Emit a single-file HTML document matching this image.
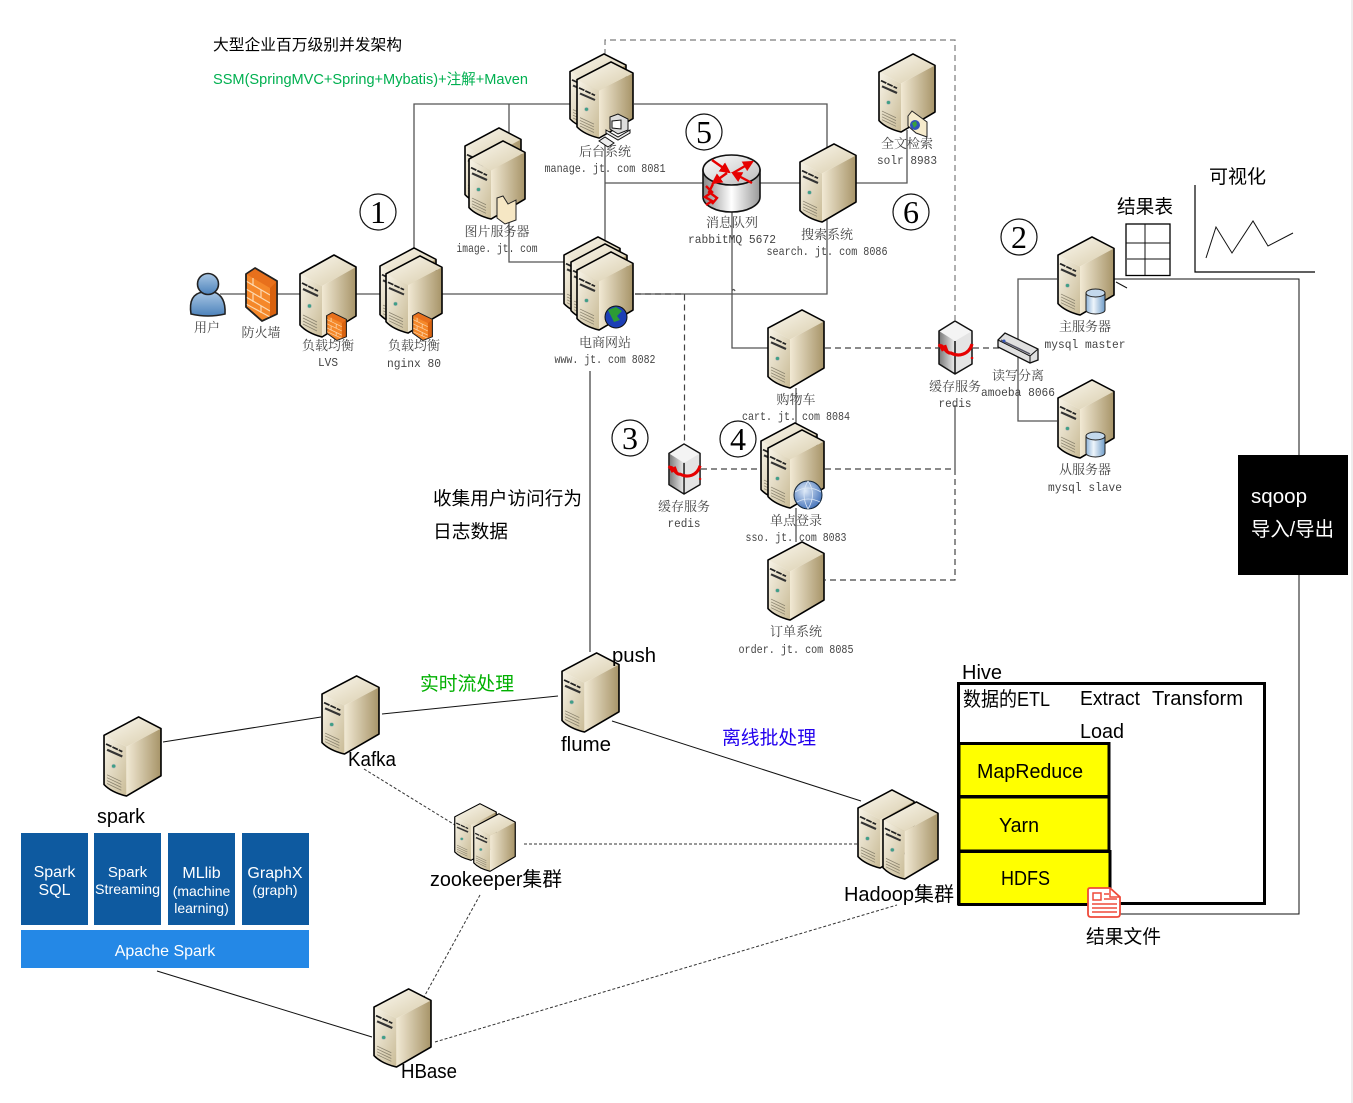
<!DOCTYPE html>
<html><head><meta charset="utf-8"><style>
html,body{margin:0;padding:0;background:#fff;width:1353px;height:1103px;overflow:hidden}
svg{display:block}
.c{font-family:"Liberation Serif","Noto Serif CJK SC",serif;font-size:13px;fill:#444;text-anchor:middle}
.m{font-family:"Liberation Mono","Noto Serif CJK SC",monospace;font-size:12px;fill:#444;text-anchor:middle}
.b{font-family:"Liberation Sans","Noto Sans CJK SC",sans-serif;font-size:20px;fill:#000}
.w{font-family:"Liberation Sans",sans-serif;fill:#fff;text-anchor:middle;font-size:16px}
.n{font-family:"Liberation Serif",serif;font-size:32px;fill:#000;text-anchor:middle}
.g{fill:none;stroke:#555;stroke-width:1.3}
.k{fill:none;stroke:#111;stroke-width:1}
.d{fill:none;stroke:#444;stroke-width:1.2;stroke-dasharray:6 4}
.d2{fill:none;stroke:#333;stroke-width:1;stroke-dasharray:3 2}
</style></head><body>
<svg width="1353" height="1103" viewBox="0 0 1353 1103" xmlns="http://www.w3.org/2000/svg">
<defs>
<marker id="ah" markerUnits="userSpaceOnUse" viewBox="0 0 10 10" refX="8" refY="5" markerWidth="11" markerHeight="11" orient="auto"><path d="M0 0 L10 5 L0 10Z" fill="#e60000"/></marker>
<linearGradient id="lf" x1="0" y1="0" x2="1" y2="1"><stop offset="0" stop-color="#f8f4e8"/><stop offset="1" stop-color="#c9bb96"/></linearGradient>
<linearGradient id="rf" x1="0" y1="0" x2="1" y2="0"><stop offset="0" stop-color="#f1e9d4"/><stop offset="1" stop-color="#a79468"/></linearGradient>
<linearGradient id="tf" x1="0" y1="0" x2="1" y2="1"><stop offset="0" stop-color="#fbf8ef"/><stop offset="1" stop-color="#d8ccab"/></linearGradient>
<linearGradient id="cy" x1="0" y1="0" x2="1" y2="0"><stop offset="0" stop-color="#8fb4d8"/><stop offset=".4" stop-color="#eef5fb"/><stop offset="1" stop-color="#6f9cc8"/></linearGradient>
<linearGradient id="rt" x1="0" y1="0" x2="1" y2="0"><stop offset="0" stop-color="#888"/><stop offset=".5" stop-color="#fff"/><stop offset="1" stop-color="#999"/></linearGradient>
<linearGradient id="rtt" x1="0" y1="0" x2="1" y2="1"><stop offset="0" stop-color="#fff"/><stop offset="1" stop-color="#bbb"/></linearGradient>
<radialGradient id="gb" cx=".4" cy=".35" r=".7"><stop offset="0" stop-color="#dfeaf8"/><stop offset="1" stop-color="#3f6fb8"/></radialGradient>
<linearGradient id="us" x1="0" y1="0" x2="0" y2="1"><stop offset="0" stop-color="#a8c6e4"/><stop offset="1" stop-color="#4c82bb"/></linearGradient>
<linearGradient id="rl" x1="0" y1="0" x2="1" y2="0"><stop offset="0" stop-color="#777"/><stop offset="1" stop-color="#eee"/></linearGradient>
<symbol id="srv" viewBox="0 0 58 84" overflow="visible" preserveAspectRatio="none">
<path d="M35 1 L57 13 L23 32 L1 20Z" fill="url(#tf)"/>
<path d="M1 20 L23 32 L23 83 Q8 79 1 71Z" fill="url(#lf)"/>
<path d="M23 32 L57 13 L57 62 L23 83Z" fill="url(#rf)"/>
<path d="M35 1 L57 13 L57 62 L23 83 Q8 79 1 71 L1 20Z" fill="none" stroke="#000" stroke-width="1.6" stroke-linejoin="round"/>
<path d="M3 29 L19 37" stroke="#222" stroke-width="1.8" stroke-dasharray="6 1"/>
<path d="M4 35 L19 42" stroke="#333" stroke-width="2.2"/>
<circle cx="10.5" cy="52" r="2" fill="#3f9f86" stroke="#bbb" stroke-width=".6"/>
<path d="M4 61 L18 68 M4 64 L18 71 M4 67 L18 74 M4 70 L18 77" stroke="#8a836f" stroke-width=".8"/>
</symbol>
<symbol id="fw" viewBox="0 0 33 55" overflow="visible" preserveAspectRatio="none">
<path d="M1 7 L10 1 L32 14 L32 47 L17 54 L1 40Z" fill="#f5882a" stroke="#222" stroke-width="1.6" stroke-linejoin="round"/>
<path d="M1 7 L25 21 L32 14 L10 1Z" fill="#e8701c"/>
<path d="M1 14 L25 28 M1 22 L25 36 M1 30 L25 44 M1 37 L25 50 M8 11 L8 19 M16 23 L16 31 M8 27 L8 35 M16 39 L16 46" stroke="#fcd9b0" stroke-width="1.2" fill="none"/>
<path d="M25 21 V50 L32 47 V14Z" fill="#d9620f"/>
<path d="M1 7 L10 1 L32 14 L32 47 L17 54 L1 40Z" fill="none" stroke="#222" stroke-width="1.6" stroke-linejoin="round"/>
</symbol>
<symbol id="dbi" viewBox="0 0 21 27" overflow="visible" preserveAspectRatio="none">
<path d="M1 5 V22 A9.5 4 0 0 0 20 22 V5Z" fill="url(#cy)" stroke="#222" stroke-width="1"/>
<ellipse cx="10.5" cy="5" rx="9.5" ry="4" fill="#c3d8ec" stroke="#222" stroke-width="1"/>
</symbol>
<symbol id="rds" viewBox="0 0 35 55" overflow="visible" preserveAspectRatio="none">
<path d="M17 1 L34 11 L17 21 L1 11Z" fill="#f4f4f4"/>
<path d="M1 11 L17 21 V54 L1 44Z" fill="url(#rl)"/>
<path d="M17 21 L34 11 V44 L17 54Z" fill="#e4e4e4"/>
<path d="M17 1 L34 11 V44 L17 54 L1 44 V11Z M17 21 V54" fill="none" stroke="#111" stroke-width="1.5" stroke-linejoin="round"/>
<path d="M1 27 C5 22 7 34 13 33 C20 37 31 35 34 24" fill="none" stroke="#e60000" stroke-width="3.2"/>
<path d="M1 24 L5 31 M7 25 L10 33 M34 37 V39" stroke="#e60000" stroke-width="2.4"/>
</symbol>
</defs>

<rect x="1351" y="0" width="2" height="1103" fill="#eee"/>

<path class="g" d="M220 294 H563 M414 250 V104 H572 M634 104 H827 V150 M509 104 V262 H565 M605 139 V240 M605 183 H705 M758 183 H800 M856 183 H907 V130 M827 220 V294 H635 M732 210 V291 Q733.5 288 735 291 M732 291 V348 H768 M796 388 V432 M796 508 V542 M955 405 V469 M1057 279 H1018 V421 H1057"/>
<path class="d" d="M605 55 V40 H955 V320" stroke-opacity=".7"/>
<path class="d" d="M635 294 H684.500 V444 M825 348 H938 M973 348 H1000 M701 469 H760 M825 469 H955 V580 H825"/>
<path class="k" d="M590 371 V652 M1114 279 H1299 V914 H1118 M1116 282 L1127 288"/>
<path class="k" d="M163 742 L321 717 M382 714 L558 696 M612 721 L861 801 M157 971 L372 1037"/>
<path class="d2" d="M364 769 L455 825 M480 895 L424 997 M524 844 H857 M435 1042 L897 905"/>

<rect x="1126" y="224" width="44" height="51.500" fill="#fff" stroke="#000" stroke-width="1.3"/>
<path class="k" d="M1145 224 V275 M1126 243 H1170 M1127 259 H1170"/>
<path d="M1195 185 V272 H1315" fill="none" stroke="#000" stroke-width="1.2"/>
<path class="k" d="M1206 258 L1216 227 L1232 253 L1253 221 L1268 246 L1293 233"/>

<path d="M191 314 Q188 294 203 292 L214 292 Q226 296 225 314 Q208 318 191 314Z" fill="url(#us)" stroke="#222" stroke-width="1.6"/>
<circle cx="208" cy="284" r="10.500" fill="url(#us)" stroke="#222" stroke-width="1.6"/>
<use href="#fw" x="245" y="267" width="33" height="55"/>

<use href="#srv" x="299" y="254" width="58" height="84"/>
<use href="#fw" x="326" y="312" width="21" height="29"/>
<use href="#srv" x="379" y="247" width="58" height="80"/>
<use href="#srv" x="385" y="255" width="58" height="79"/>
<use href="#fw" x="412" y="312" width="21" height="29"/>
<use href="#srv" x="569" y="53" width="58" height="78"/>
<use href="#srv" x="576" y="61" width="58" height="78"/>
<g stroke="#111" stroke-width="1">
<path d="M610 117 L618 114 L628 119 V130 L618 134 L610 129Z" fill="#ddd"/>
<path d="M612 121 L621 120 V129 L612 128Z" fill="#fff"/>
<path d="M606 130 L618 137 L630 130 L630 133 L618 140 L606 133Z" fill="#eee"/>
<path d="M599 141 L608 147 L614 143 L605 137Z" fill="#eee"/>
</g>
<use href="#srv" x="464" y="127" width="58" height="80"/>
<use href="#srv" x="468" y="140" width="58" height="80"/>
<path d="M497 198 L503 196 L508 204 L516 200 V220 L505 224 L497 218Z" fill="#f6e7c4" stroke="#222" stroke-width="1"/>
<use href="#srv" x="563" y="236" width="58" height="80"/>
<use href="#srv" x="570" y="243" width="58" height="80"/>
<use href="#srv" x="576" y="251" width="58" height="80"/>
<circle cx="616" cy="317" r="11" fill="#1c3fb5" stroke="#111"/>
<path d="M608 310 L616 307 L622 311 L617 316 L620 320 L614 322 L611 316Z" fill="#2c9c34"/>

<use href="#srv" x="878" y="53" width="58" height="80"/>
<path d="M908 116 L912 111 L927 122 V137 L916 133 L908 126Z" fill="#f6ebcc" stroke="#222"/>
<circle cx="915" cy="125" r="5" fill="#2f52b8"/><path d="M912 123 L916 121 L917 125 L914 128Z" fill="#37a13c"/>

<path d="M703 170 V197 A28.500 15 0 0 0 760 197 V170Z" fill="url(#rt)" stroke="#111" stroke-width="1.6"/>
<ellipse cx="731.500" cy="170" rx="28.500" ry="15" fill="url(#rtt)" stroke="#111" stroke-width="1.6"/>
<g stroke="#e60000" stroke-width="2.400" fill="none">
<path d="M712 160 L729 172" marker-end="url(#ah)"/>
<path d="M733 173 L752 162" marker-end="url(#ah)"/>
<path d="M727 173 L713 183" marker-end="url(#ah)"/>
<path d="M752 183 L733 173" marker-end="url(#ah)"/>
</g>
<path d="M706 186 L712 192 L705 197 L712 201 L706 205 M713 184 L709 192 L717 198 L712 204" fill="none" stroke="#e60000" stroke-width="2.400"/>

<use href="#srv" x="799" y="143" width="58" height="80"/>
<use href="#srv" x="767" y="309" width="58" height="80"/>
<use href="#rds" x="938" y="320" width="35" height="55"/>
<path d="M998 340 L1005 333 L1038 349 V360 L1030 363 L998 347Z" fill="#e0e0e0" stroke="#111" stroke-width="1.300"/>
<path d="M998 340 L1030 356 L1038 349 M1030 356 V363" fill="none" stroke="#111"/>
<path d="M1001 340 L1030 354" stroke="#556" stroke-width="1.500"/>
<circle cx="1004" cy="341" r="1.500" fill="#3355bb"/>

<use href="#srv" x="1057" y="236" width="58" height="80"/>
<use href="#dbi" x="1085" y="288" width="21" height="27"/>
<use href="#srv" x="1057" y="379" width="58" height="80"/>
<use href="#dbi" x="1085" y="431" width="21" height="27"/>

<use href="#rds" x="668" y="443" width="33" height="52"/>
<use href="#srv" x="760" y="422" width="58" height="80"/>
<use href="#srv" x="767" y="429" width="58" height="80"/>
<circle cx="808" cy="495" r="14" fill="url(#gb)" stroke="#123" stroke-width="1"/>
<path d="M795 492 Q808 484 821 492 M797 502 Q808 496 820 502 M808 481 Q800 494 808 509 M808 481 Q817 494 808 509" fill="none" stroke="#dce8f7" stroke-width=".8"/>
<use href="#srv" x="767" y="541" width="58" height="80"/>

<use href="#srv" x="561" y="652" width="59" height="81"/>
<use href="#srv" x="321" y="675" width="59" height="80"/>
<use href="#srv" x="103" y="716" width="59" height="81"/>
<use href="#srv" x="373" y="988" width="59" height="80"/>
<use href="#srv" x="454" y="803" width="43" height="58"/>
<use href="#srv" x="473" y="813" width="43" height="59"/>
<use href="#srv" x="857" y="789" width="58" height="80"/>
<use href="#srv" x="882" y="801" width="57" height="79"/>

<rect x="21" y="833" width="67" height="92" fill="#0e5aa0"/>
<rect x="94" y="833" width="67" height="92" fill="#0e5aa0"/>
<rect x="168" y="833" width="67" height="92" fill="#0e5aa0"/>
<rect x="242" y="833" width="67" height="92" fill="#0e5aa0"/>
<rect x="21" y="930" width="288" height="38" fill="#2488e6"/>
<text class="w" x="54.500" y="877">Spark</text><text class="w" x="54.500" y="895">SQL</text>
<text class="w" x="127.500" y="877" style="font-size:15px">Spark</text><text class="w" x="127.500" y="894" style="font-size:14px" textLength="65" lengthAdjust="spacingAndGlyphs">Streaming</text>
<text class="w" x="201.500" y="878">MLlib</text><text class="w" x="201.500" y="896" style="font-size:14px">(machine</text><text class="w" x="201.500" y="913" style="font-size:14px">learning)</text>
<text class="w" x="275" y="878">GraphX</text><text class="w" x="275" y="895" style="font-size:14px">(graph)</text>
<text class="w" x="165" y="956">Apache Spark</text>

<rect x="958.500" y="683.500" width="306" height="220" fill="#fff" stroke="#000" stroke-width="3"/>
<rect x="959" y="743.500" width="150" height="53" fill="#ff0" stroke="#000" stroke-width="3"/>
<rect x="959" y="797" width="150" height="54" fill="#ff0" stroke="#000" stroke-width="3"/>
<rect x="959" y="851.500" width="151" height="53" fill="#ff0" stroke="#000" stroke-width="3"/>
<path d="M1090 888 H1110 L1120 897 V914 Q1120 917 1117 917 H1091 Q1088 917 1088 914 V890 Q1088 888 1090 888Z" fill="#fff" stroke="#ef4a3a" stroke-width="1.800"/>
<path d="M1093 893 H1101 V900 H1093Z M1104 894 H1109 M1104 899 H1117 M1092 904 H1117 M1092 908 H1117 M1092 912 H1117" fill="none" stroke="#ef4a3a" stroke-width="1.500"/>
<path d="M1110 888 V897 H1120" fill="none" stroke="#ef4a3a" stroke-width="1.500"/>

<rect x="1238" y="455" width="110" height="120" fill="#000"/>

<g fill="none" stroke="#111" stroke-width="1.200">
<circle cx="378" cy="212" r="18"/><circle cx="704" cy="132" r="18"/><circle cx="911" cy="212" r="18"/><circle cx="1019" cy="237" r="18"/><circle cx="630" cy="438" r="18"/><circle cx="738" cy="439" r="18"/>
</g>
<text class="n" x="378" y="223">1</text><text class="n" x="704" y="143">5</text><text class="n" x="911" y="223">6</text><text class="n" x="1019" y="248">2</text><text class="n" x="630" y="449">3</text><text class="n" x="738" y="450">4</text>

<text class="c" x="207" y="332">用户</text>
<text class="c" x="261" y="337">防火墙</text>
<text class="c" x="328" y="350">负载均衡</text><text class="m" x="328" y="366" textLength="20" lengthAdjust="spacingAndGlyphs">LVS</text>
<text class="c" x="414" y="350">负载均衡</text><text class="m" x="414" y="367" textLength="54" lengthAdjust="spacingAndGlyphs">nginx 80</text>
<text class="c" x="497" y="236">图片服务器</text><text class="m" x="497" y="252" textLength="81" lengthAdjust="spacingAndGlyphs">image. jt. com</text>
<text class="c" x="605" y="156">后台系统</text><text class="m" x="605" y="172" textLength="121" lengthAdjust="spacingAndGlyphs">manage. jt. com 8081</text>
<text class="c" x="605" y="347">电商网站</text><text class="m" x="605" y="363" textLength="101" lengthAdjust="spacingAndGlyphs">www. jt. com 8082</text>
<text class="c" x="732" y="227">消息队列</text><text class="m" x="732" y="243" textLength="88" lengthAdjust="spacingAndGlyphs">rabbitMQ 5672</text>
<text class="c" x="827" y="239">搜索系统</text><text class="m" x="827" y="255" textLength="121" lengthAdjust="spacingAndGlyphs">search. jt. com 8086</text>
<text class="c" x="907" y="148">全文检索</text><text class="m" x="907" y="164" textLength="60" lengthAdjust="spacingAndGlyphs">solr 8983</text>
<text class="c" x="1085" y="331">主服务器</text><text class="m" x="1085" y="348" textLength="81" lengthAdjust="spacingAndGlyphs">mysql master</text>
<text class="c" x="1085" y="474">从服务器</text><text class="m" x="1085" y="491" textLength="74" lengthAdjust="spacingAndGlyphs">mysql slave</text>
<text class="c" x="1018" y="380">读写分离</text><text class="m" x="1018" y="396" textLength="74" lengthAdjust="spacingAndGlyphs">amoeba 8066</text>
<text class="c" x="955" y="391">缓存服务</text><text class="m" x="955" y="407" textLength="33" lengthAdjust="spacingAndGlyphs">redis</text>
<text class="c" x="796" y="404">购物车</text><text class="m" x="796" y="420" textLength="108" lengthAdjust="spacingAndGlyphs">cart. jt. com 8084</text>
<text class="c" x="684" y="511">缓存服务</text><text class="m" x="684" y="527" textLength="33" lengthAdjust="spacingAndGlyphs">redis</text>
<text class="c" x="796" y="525">单点登录</text><text class="m" x="796" y="541" textLength="101" lengthAdjust="spacingAndGlyphs">sso. jt. com 8083</text>
<text class="c" x="796" y="636">订单系统</text><text class="m" x="796" y="653" textLength="115" lengthAdjust="spacingAndGlyphs">order. jt. com 8085</text>

<text class="b" x="213" y="50" style="font-size:15.500px" textLength="189" lengthAdjust="spacingAndGlyphs">大型企业百万级别并发架构</text>
<text class="b" x="213" y="84" style="font-size:15px;fill:#00b050" textLength="315" lengthAdjust="spacingAndGlyphs">SSM(SpringMVC+Spring+Mybatis)+注解+Maven</text>
<text class="b" x="433" y="505" style="font-size:18.500px" textLength="149" lengthAdjust="spacingAndGlyphs">收集用户访问行为</text>
<text class="b" x="433" y="538" style="font-size:18.500px" textLength="75" lengthAdjust="spacingAndGlyphs">日志数据</text>
<text class="b" x="1209" y="183" style="font-size:19px" textLength="57" lengthAdjust="spacingAndGlyphs">可视化</text>
<text class="b" x="1117" y="213" style="font-size:19px" textLength="56" lengthAdjust="spacingAndGlyphs">结果表</text>
<text class="b" x="1251" y="503" style="fill:#fff" textLength="56" lengthAdjust="spacingAndGlyphs">sqoop</text>
<text class="b" x="1251" y="536" style="fill:#fff" textLength="83" lengthAdjust="spacingAndGlyphs">导入/导出</text>
<text class="b" x="612" y="662" textLength="44" lengthAdjust="spacingAndGlyphs">push</text>
<text class="b" x="561" y="751" textLength="50" lengthAdjust="spacingAndGlyphs">flume</text>
<text class="b" x="348" y="766" textLength="48" lengthAdjust="spacingAndGlyphs">Kafka</text>
<text class="b" x="97" y="823" textLength="48" lengthAdjust="spacingAndGlyphs">spark</text>
<text class="b" x="430" y="886" textLength="132" lengthAdjust="spacingAndGlyphs">zookeeper集群</text>
<text class="b" x="401" y="1078" textLength="56" lengthAdjust="spacingAndGlyphs">HBase</text>
<text class="b" x="844" y="901" textLength="110" lengthAdjust="spacingAndGlyphs">Hadoop集群</text>
<text class="b" x="1086" y="943" style="font-size:19px" textLength="75" lengthAdjust="spacingAndGlyphs">结果文件</text>
<text class="b" x="962" y="679" textLength="40" lengthAdjust="spacingAndGlyphs">Hive</text>
<text class="b" x="963" y="706" textLength="87" lengthAdjust="spacingAndGlyphs">数据的ETL</text>
<text class="b" x="1080" y="705" textLength="60" lengthAdjust="spacingAndGlyphs">Extract</text>
<text class="b" x="1152" y="705" textLength="91" lengthAdjust="spacingAndGlyphs">Transform</text>
<text class="b" x="1080" y="738" textLength="44" lengthAdjust="spacingAndGlyphs">Load</text>
<text class="b" x="977" y="778" textLength="106" lengthAdjust="spacingAndGlyphs">MapReduce</text>
<text class="b" x="999" y="832" textLength="40" lengthAdjust="spacingAndGlyphs">Yarn</text>
<text class="b" x="1001" y="885" textLength="49" lengthAdjust="spacingAndGlyphs">HDFS</text>
<text class="b" x="420" y="690" style="font-size:19px;fill:#00b000" textLength="94" lengthAdjust="spacingAndGlyphs">实时流处理</text>
<text class="b" x="722" y="744" style="font-size:19px;fill:#2200ee" textLength="94" lengthAdjust="spacingAndGlyphs">离线批处理</text>
</svg>
</body></html>
